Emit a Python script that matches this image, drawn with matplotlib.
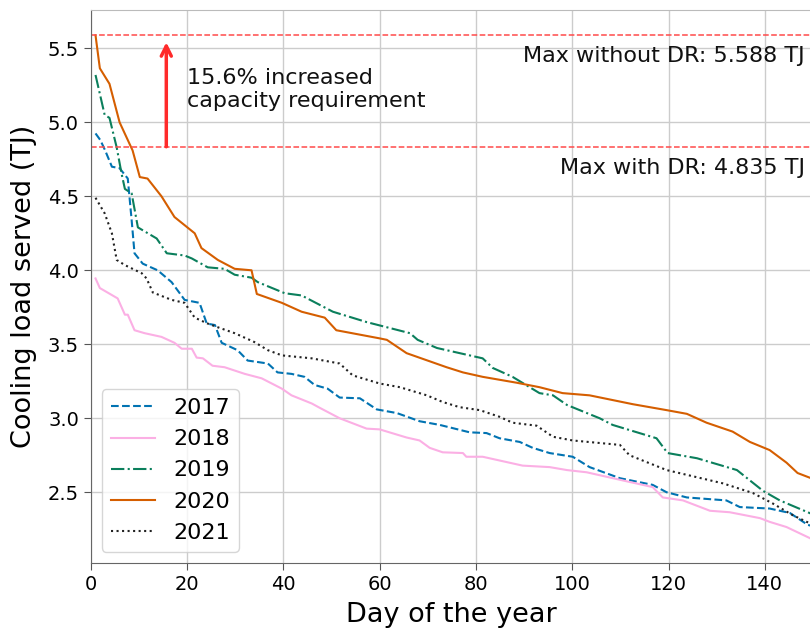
import matplotlib
matplotlib.use("Agg")
import matplotlib.pyplot as plt

# Load duration curves (sorted daily cooling load, TJ)
days_2017 = [1, 2, 3, 4.4, 6, 7.7, 8.5, 9.1, 10.8, 13.9, 16.8, 19.5, 22.6, 24.1, 25.8, 27.2, 30.5, 32.6,
             36.8, 38.8, 41.7, 44.4, 46.5, 49.2, 51.7, 55.9, 59.4, 63.6, 68.3, 72.5, 78.7, 82.2, 84.9,
             89.1, 91.8, 95.3, 100.1, 103.6, 109.9, 116.7, 119.6, 123.8, 132, 134.8, 141, 145.2, 148.9, 150]
load_2017 = [4.925, 4.88, 4.81, 4.70, 4.69, 4.62, 4.34, 4.115, 4.045, 4.0, 3.92, 3.80, 3.78, 3.64, 3.63,
             3.51, 3.46, 3.39, 3.37, 3.31, 3.30, 3.28, 3.225, 3.20, 3.14, 3.135, 3.06, 3.035, 2.98, 2.955,
             2.905, 2.90, 2.865, 2.84, 2.80, 2.765, 2.74, 2.67, 2.595, 2.55, 2.50, 2.465, 2.445, 2.40, 2.39,
             2.36, 2.28, 2.27]

days_2018 = [1, 1.9, 5.6, 7.1, 7.7, 9.1, 11.2, 14.7, 17.4, 18.9, 21, 22, 23.3, 25.3, 27.8, 32, 35.5, 39.7,
             41.7, 45.9, 47.6, 51.7, 57.3, 60, 65.6, 68.3, 70.4, 73.1, 77.3, 78, 81.4, 89.7, 95.3, 98.9,
             103, 110.5, 116.7, 118.8, 123, 128.6, 132.7, 139, 141, 144.5, 150]
load_2018 = [3.945, 3.88, 3.81, 3.70, 3.70, 3.595, 3.575, 3.55, 3.51, 3.47, 3.47, 3.41, 3.405, 3.355,
             3.345, 3.30, 3.27, 3.20, 3.155, 3.10, 3.07, 3.0, 2.93, 2.925, 2.87, 2.85, 2.80, 2.77, 2.765,
             2.74, 2.74, 2.68, 2.67, 2.65, 2.635, 2.58, 2.535, 2.465, 2.445, 2.375, 2.365, 2.325, 2.30,
             2.265, 2.18]

days_2019 = [1, 2.9, 3.9, 5.4, 6.4, 7.1, 8.5, 9.8, 13.7, 15.8, 19.5, 21, 24.3, 27.8, 29.9, 33.4, 34.7,
             40.3, 43.8, 50.3, 57.3, 61.5, 66.3, 67.9, 71.9, 78, 81.4, 83.5, 87.6, 93.2, 96, 98.9, 105.7,
             108.4, 117.5, 119.8, 125.9, 134.2, 139.6, 143.1, 150]
load_2019 = [5.32, 5.05, 5.03, 4.83, 4.655, 4.55, 4.52, 4.29, 4.215, 4.115, 4.10, 4.08, 4.02, 4.01, 3.97,
             3.95, 3.92, 3.845, 3.83, 3.72, 3.65, 3.615, 3.575, 3.53, 3.475, 3.43, 3.405, 3.34, 3.28, 3.17,
             3.155, 3.09, 3.0, 2.955, 2.865, 2.765, 2.73, 2.65, 2.51, 2.445, 2.35]

days_2020 = [1, 1.9, 3.9, 6, 8.7, 10.2, 11.8, 14.7, 17.4, 21.6, 23, 26.4, 29.9, 33.4, 34.5, 39.7, 43.8,
             48.6, 51, 60, 61.5, 65.6, 73.9, 77.3, 81.4, 88.5, 93.2, 98, 103.6, 112.6, 119.6, 123.8, 127.9,
             133.3, 136.9, 141, 144.5, 146.8, 150]
load_2020 = [5.588, 5.365, 5.26, 5.0, 4.81, 4.63, 4.62, 4.5, 4.36, 4.25, 4.15, 4.07, 4.01, 4.0, 3.84,
             3.78, 3.72, 3.68, 3.595, 3.54, 3.53, 3.44, 3.345, 3.31, 3.28, 3.24, 3.21, 3.17, 3.155, 3.095,
             3.055, 3.03, 2.97, 2.91, 2.84, 2.785, 2.70, 2.63, 2.59]

days_2021 = [1, 2.9, 4.4, 5.4, 7.1, 10.6, 11.6, 12.9, 16.8, 19.5, 21.6, 24.3, 26.4, 29.9, 34, 36.8, 39.7,
             45.9, 51.7, 54.4, 60, 64.2, 69.8, 73.1, 76.6, 80.8, 84.9, 87.6, 92.6, 96, 100.1, 109.9, 111.9,
             119.6, 131.3, 137.5, 141.6, 145.8, 150]
load_2021 = [4.49, 4.385, 4.25, 4.07, 4.035, 3.98, 3.945, 3.85, 3.80, 3.78, 3.68, 3.64, 3.615, 3.575,
             3.515, 3.46, 3.425, 3.405, 3.37, 3.29, 3.235, 3.21, 3.155, 3.11, 3.075, 3.055, 3.01, 2.97,
             2.95, 2.875, 2.85, 2.82, 2.75, 2.65, 2.56, 2.495, 2.425, 2.345, 2.28]

max_without_dr = 5.588
max_with_dr = 4.835
increase_pct = 15.6

W, H = 810, 631
fig = plt.figure(figsize=(W / 100, H / 100), dpi=100)
left_px, right_px, top_px, bottom_px = 90.7, 813.0, 10.0, 562.7
ax = fig.add_axes([left_px / W, 1 - bottom_px / H, (right_px - left_px) / W, (bottom_px - top_px) / H])

ax.plot(days_2017, load_2017, color="#0173b2", linestyle="--", lw=1.5, label="2017")
ax.plot(days_2018, load_2018, color="#fbafe4", linestyle="-", lw=1.5, label="2018")
ax.plot(days_2019, load_2019, color="#0b7f5c", linestyle="-.", lw=1.5, label="2019")
ax.plot(days_2020, load_2020, color="#d55e00", linestyle="-", lw=1.5, label="2020")
ax.plot(days_2021, load_2021, color="#222222", linestyle=":", lw=1.5, label="2021")

red = "#ff4a4a"
ax.axhline(max_without_dr, color=red, linestyle="--", lw=1.1)
ax.axhline(max_with_dr, color=red, linestyle="--", lw=1.1)
ax.annotate("", xy=(15.7, max_without_dr), xytext=(15.7, max_with_dr),
            arrowprops=dict(arrowstyle="->", color="#ff2a2a", lw=2.5,
                            shrinkA=0, shrinkB=5, mutation_scale=18))
ax.text(20, 5.22, f"{increase_pct}% increased\ncapacity requirement",
        fontsize=16, ha="left", va="center", color="#111111")
ax.text(148.3, 5.45, f"Max without DR: {max_without_dr} TJ",
        fontsize=16, ha="right", va="center", color="#111111")
ax.text(148.3, 4.69, f"Max with DR: {max_with_dr} TJ",
        fontsize=16, ha="right", va="center", color="#111111")

ax.set_xlim(0, 150)
ax.set_ylim(2.024, 5.759)
ax.set_xticks([0, 20, 40, 60, 80, 100, 120, 140])
ax.set_yticks([2.5, 3.0, 3.5, 4.0, 4.5, 5.0, 5.5])
ax.grid(True, color="#cccccc", lw=1.0)
ax.set_axisbelow(True)
ax.tick_params(labelsize=14, color="#555555", length=5)
for side in ("left", "bottom"):
    ax.spines[side].set_color("#666666")
ax.spines["top"].set_color("#bbbbbb")
ax.spines["right"].set_visible(False)

ax.set_xlabel("Day of the year", fontsize=19.5, labelpad=6)
ax.set_ylabel("Cooling load served (TJ)", fontsize=19.5, labelpad=8)

leg = ax.legend(loc="lower left", fontsize=16, frameon=True, fancybox=True,
                borderaxespad=0.5, handlelength=2.0)
leg.get_frame().set_edgecolor("#cccccc")

fig.savefig("out.png", dpi=100)
